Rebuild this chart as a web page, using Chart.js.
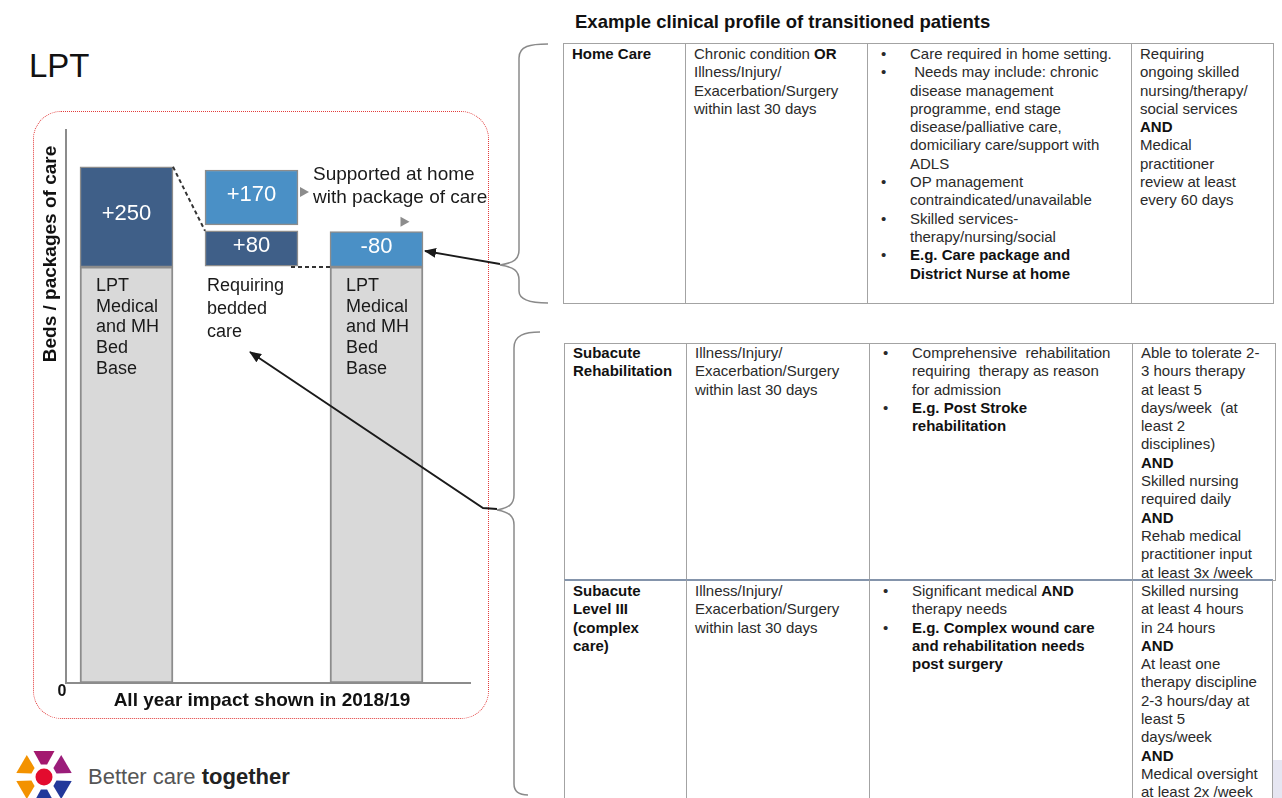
<!DOCTYPE html>
<html><head><meta charset="utf-8">
<script src="https://cdn.jsdelivr.net/npm/chart.js@4.4.1/dist/chart.umd.min.js"></script>
<style>
html,body{margin:0;padding:0;background:#fff;}
body{width:1282px;height:798px;position:relative;overflow:hidden;font-family:"Liberation Sans",Arial,sans-serif;color:#222;}
.abs{position:absolute;}
#lpt{left:29px;top:46px;font-size:33px;line-height:40px;color:#111;}
#frame{left:33px;top:111px;width:456px;height:608px;border:1.5px dotted #e23b3b;border-radius:28px;box-sizing:border-box;}
#chart{position:absolute;left:0;top:0;}
#title{left:575px;top:9px;font-size:18.5px;font-weight:bold;line-height:26px;color:#111;white-space:nowrap;}
.cell{position:absolute;box-sizing:border-box;border:1px solid #a3a3a3;font-size:15px;line-height:18.3px;white-space:nowrap;padding:1px 0 0 8px;color:#2a2a2a;overflow:hidden;}
.cell b{color:#111;}
.b3{padding-left:0;}
.bl{position:relative;padding-left:42px;}
.bl::before{content:"\2022";position:absolute;left:13px;top:0;}
.top2{border-top:2px solid #8494ab;}
#lav{left:1273px;top:760px;width:9px;height:38px;background:#e6e6f2;}
#brand{left:88px;top:763px;font-size:22px;line-height:28px;white-space:nowrap;}
#brand .r{color:#555;}
#brand .bb{color:#222;font-weight:bold;}
#overlay{position:absolute;left:0;top:0;pointer-events:none;}
</style>
</head>
<body>
<div id="lpt" class="abs">LPT</div>
<div id="frame" class="abs"></div>
<canvas id="chart" width="500" height="730"></canvas>

<div id="title" class="abs">Example clinical profile of transitioned patients</div>

<!-- Table 1 -->
<div class="cell" style="left:563px;top:43px;width:123px;height:261px;"><b>Home Care</b></div>
<div class="cell" style="left:685px;top:43px;width:183px;height:261px;">Chronic condition <b>OR</b><br>Illness/Injury/<br>Exacerbation/Surgery<br>within last 30 days</div>
<div class="cell b3" style="left:867px;top:43px;width:265px;height:261px;">
<div class="bl">Care required in home setting.</div>
<div class="bl">&nbsp;Needs may include: chronic<br>disease management<br>programme, end stage<br>disease/palliative care,<br>domiciliary care/support with<br>ADLS</div>
<div class="bl">OP management<br>contraindicated/unavailable</div>
<div class="bl">Skilled services-<br>therapy/nursing/social</div>
<div class="bl"><b>E.g. Care package and<br>District Nurse at home</b></div>
</div>
<div class="cell" style="left:1131px;top:43px;width:143px;height:261px;">Requiring<br>ongoing skilled<br>nursing/therapy/<br>social services<br><b>AND</b><br>Medical<br>practitioner<br>review at least<br>every 60 days</div>

<!-- Table 2 row 1 -->
<div class="cell" style="left:564px;top:343px;width:123px;height:238px;padding-top:0;"><b>Subacute<br>Rehabilitation</b></div>
<div class="cell" style="left:686px;top:343px;width:184px;height:238px;padding-top:0;">Illness/Injury/<br>Exacerbation/Surgery<br>within last 30 days</div>
<div class="cell b3" style="left:869px;top:343px;width:264px;height:238px;padding-top:0;">
<div class="bl">Comprehensive&nbsp; rehabilitation<br>requiring&nbsp; therapy as reason<br>for admission</div>
<div class="bl"><b>E.g. Post Stroke<br>rehabilitation</b></div>
</div>
<div class="cell" style="left:1132px;top:343px;width:144px;height:238px;padding-top:0;">Able to tolerate 2-<br>3 hours therapy<br>at least 5<br>days/week&nbsp; (at<br>least 2<br>disciplines)<br><b>AND</b><br>Skilled nursing<br>required daily<br><b>AND</b><br>Rehab medical<br>practitioner input<br>at least 3x /week</div>

<!-- Table 2 row 2 -->
<div class="cell top2" style="left:564px;top:579px;width:123px;height:240px;"><b>Subacute<br>Level III<br>(complex<br>care)</b></div>
<div class="cell top2" style="left:686px;top:579px;width:184px;height:240px;">Illness/Injury/<br>Exacerbation/Surgery<br>within last 30 days</div>
<div class="cell b3 top2" style="left:869px;top:579px;width:264px;height:240px;">
<div class="bl">Significant medical <b>AND</b><br>therapy needs</div>
<div class="bl"><b>E.g. Complex wound care<br>and rehabilitation needs<br>post surgery</b></div>
</div>
<div class="cell top2" style="left:1132px;top:579px;width:141px;height:240px;">Skilled nursing<br>at least 4 hours<br>in 24 hours<br><b>AND</b><br>At least one<br>therapy discipline<br>2-3 hours/day at<br>least 5<br>days/week<br><b>AND</b><br>Medical oversight<br>at least 2x /week</div>
<div id="lav" class="abs"></div>

<!-- logo -->
<svg id="logo" class="abs" style="left:0;top:740px;" width="86" height="58"></svg>
<div id="brand" class="abs"><span class="r">Better care </span><span class="bb">together</span></div>

<!-- braces and arrows -->
<svg id="overlay" width="1282" height="798">
<defs>
<marker id="ah" markerWidth="12" markerHeight="10" refX="11" refY="5" orient="auto" markerUnits="userSpaceOnUse">
<path d="M0,0 L12,5 L0,10 z" fill="#1a1a1a"/>
</marker>
</defs>
<path d="M548,44 C530,44 519,46 519,58 L519,250 C519,259 514,263 500,265 C514,267 519,271 519,280 L519,291 C519,300 530,303 548,303" fill="none" stroke="#8a8a8a" stroke-width="1.5"/>
<path d="M540,332 C525,332 514,335 514,348 L514,495 C514,504 509,508 497,510 C509,512 514,516 514,525 L514,784 C514,791 519,795 528,795" fill="none" stroke="#8a8a8a" stroke-width="1.5"/>
<line x1="500" y1="264" x2="425" y2="251" stroke="#1a1a1a" stroke-width="1.8" marker-end="url(#ah)"/>
<polyline points="497,509 483,508 250,352" fill="none" stroke="#1a1a1a" stroke-width="1.8" marker-end="url(#ah)"/>
</svg>

<script>
// ---- data ----
const categories = ['LPT bed base', 'Shift', 'LPT bed base after shift'];
const bedBaseValues = [1040, null, 1040];
const darkRanges = [[1040, 1290], [1042, 1130], null];
const darkLabels = ['+250', '+80', ''];
const lightRanges = [null, [1145, 1282], [1040, 1128]];
const lightLabels = ['', '+170', '-80'];
const baseLabelLines = ['LPT', 'Medical', 'and MH', 'Bed', 'Base'];
const beddedLines = ['Requiring', 'bedded', 'care'];
const supportedLines = ['Supported at home', 'with package of care'];
const xAxisTitle = 'All year impact shown in 2018/19';
const yAxisTitle = 'Beds / packages of care';
const yTickLabels = ['0'];

// ---- logo ----
(function(){
  const svg = document.getElementById('logo');
  const cx = 44, cy = 37;
  const petals = [[-90,'#a3196f'],[-30,'#9b1d7a'],[30,'#22389a'],[90,'#22389a'],[150,'#f39200'],[210,'#f39200']];
  let h = '';
  petals.forEach(([a,c])=>{
    const r1=13, r2=28, w1=14*Math.PI/180, w2=22*Math.PI/180, t=a*Math.PI/180;
    const p=(r,d)=>[(cx+r*Math.cos(t+d)).toFixed(1),(cy+r*Math.sin(t+d)).toFixed(1)].join(',');
    h += `<polygon points="${p(r1,-w1)} ${p(r2,-w2)} ${p(r2,w2)} ${p(r1,w1)}" fill="${c}"/>`;
  });
  h += `<circle cx="${cx}" cy="${cy}" r="8.5" fill="#e30b2e"/>`;
  svg.innerHTML = h;
})();

// ---- chart ----
const mk = (arr) => arr.map((v,i)=> v==null?null:({x:i, y:Array.isArray(v)?v:[0,v], i})).filter(Boolean);

const annot = {
  id:'annot',
  afterDatasetsDraw(chart){
    const ctx = chart.ctx, ca = chart.chartArea;
    const P = el => el.getProps(['x','y','base','width'], true);
    const gm = chart.getDatasetMeta(0).data.map(P);
    const dm = chart.getDatasetMeta(1).data.map(P);
    const lm = chart.getDatasetMeta(2).data.map(P);
    const dsD = chart.data.datasets[1].data, dsL = chart.data.datasets[2].data;
    ctx.save();
    ctx.textBaseline = 'middle';
    ctx.font = '18px "Liberation Sans", Arial, sans-serif';
    ctx.fillStyle = '#1a1a1a'; ctx.textAlign = 'left';
    gm.forEach(el=>{
      const left = el.x - el.width/2;
      baseLabelLines.forEach((t,k)=>ctx.fillText(t, left+16, el.y+19+k*20.7));
    });
    ctx.font = '22px "Liberation Sans", Arial, sans-serif';
    ctx.fillStyle = '#ffffff'; ctx.textAlign = 'center';
    dm.forEach((el,j)=>{ const t = darkLabels[dsD[j].i]; if(t) ctx.fillText(t, el.x, (el.y+el.base)/2-3); });
    lm.forEach((el,j)=>{ const t = lightLabels[dsL[j].i]; if(t) ctx.fillText(t, el.x, (el.y+el.base)/2-2); });
    ctx.strokeStyle = '#333'; ctx.lineWidth = 2; ctx.setLineDash([4,3]);
    const d0 = dm[0], d1 = dm[1], g1 = gm[1];
    ctx.beginPath(); ctx.moveTo(d0.x+d0.width/2, d0.y); ctx.lineTo(d1.x-d1.width/2, d1.y); ctx.stroke();
    ctx.beginPath(); ctx.moveTo(d1.x+d1.width/2-7, d1.base+1); ctx.lineTo(g1.x-g1.width/2, d1.base+1); ctx.stroke();
    ctx.setLineDash([]);
    ctx.font = '18px "Liberation Sans", Arial, sans-serif';
    ctx.fillStyle = '#1a1a1a'; ctx.textAlign = 'left';
    beddedLines.forEach((t,k)=>ctx.fillText(t, d1.x-d1.width/2+2, d1.base+20+k*23));
    const l0 = lm[0], l1 = lm[1];
    ctx.font = '19px "Liberation Sans", Arial, sans-serif';
    supportedLines.forEach((t,k)=>ctx.fillText(t, l0.x+l0.width/2+15, l0.y+5+k*22.5));
    ctx.fillStyle = '#8c8c8c';
    const tri = (x,y)=>{ctx.beginPath();ctx.moveTo(x,y-5);ctx.lineTo(x+9,y);ctx.lineTo(x,y+5);ctx.closePath();ctx.fill();};
    tri(l0.x+l0.width/2+2, l0.y+22);
    tri(l1.x+24, l1.y-10);
    ctx.fillStyle = '#111';
    ctx.font = 'bold 16px "Liberation Sans", Arial, sans-serif'; ctx.textAlign = 'center';
    ctx.fillText(yTickLabels[0], ca.left-4, ca.bottom+9);
    ctx.font = 'bold 19px "Liberation Sans", Arial, sans-serif';
    ctx.fillText(xAxisTitle, (ca.left+ca.right)/2-6, ca.bottom+18);
    ctx.translate(ca.left-15, 254); ctx.rotate(-Math.PI/2);
    ctx.fillText(yAxisTitle, 0, 0);
    ctx.restore();
  }
};

const common = {grouped:false, barThickness:93, borderWidth:1.5, borderColor:'#8c8c8c', borderSkipped:false};
new Chart(document.getElementById('chart'), {
  type:'bar',
  data:{
    datasets:[
      Object.assign({label:'Bed base', data: mk(bedBaseValues), backgroundColor:'#d9d9d9'}, common, {borderWidth:2}),
      Object.assign({label:'Bedded care', data: mk(darkRanges), backgroundColor:'#3f5f88'}, common),
      Object.assign({label:'Package of care', data: mk(lightRanges), backgroundColor:'#4a90c6'}, common)
    ]
  },
  options:{
    responsive:false, animation:false, devicePixelRatio:1,
    layout:{padding:{left:66, top:130, right:30, bottom:47}},
    plugins:{legend:{display:false}, tooltip:{enabled:false}},
    scales:{
      x:{type:'linear', offset:false, min:-0.484, max:2.748, grid:{display:false, drawTicks:false, offset:false}, ticks:{display:false}, border:{display:true, color:'#8c8c8c', width:2}},
      y:{min:0, max:1382, grid:{display:false, drawTicks:false}, ticks:{display:false}, border:{display:true, color:'#8c8c8c', width:2}}
    }
  },
  plugins:[annot]
});
</script>
</body></html>
